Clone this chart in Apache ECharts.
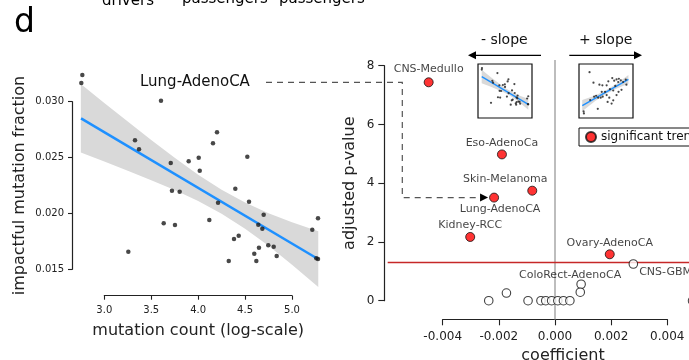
<!DOCTYPE html>
<html><head><meta charset="utf-8">
<script src="https://cdn.jsdelivr.net/npm/echarts@6/dist/echarts.min.js"></script>
<style>html,body{margin:0;padding:0;background:#fff}#c{width:689px;height:360px}</style>
</head><body><div id="c"></div>
<script>
// ---- Left panel: Lung-AdenoCA, impactful fraction vs mutation count ----
const mutCount = [2.766, 2.755, 3.604, 3.327, 3.370, 3.708, 3.721, 3.803, 3.899, 4.006, 4.017, 4.158, 4.201, 4.212, 4.119, 3.633, 3.753, 3.256, 4.326, 4.382, 4.432, 4.396, 4.524, 4.542, 4.698, 4.641, 4.684, 4.648, 4.598, 4.620, 4.747, 4.805, 4.837, 5.216, 5.277, 5.259, 5.277];
const impFrac = [0.03239, 0.03167, 0.03009, 0.02655, 0.02574, 0.02451, 0.02203, 0.02194, 0.02467, 0.02499, 0.02382, 0.02628, 0.02726, 0.02096, 0.01941, 0.01912, 0.01896, 0.01657, 0.01574, 0.01771, 0.01801, 0.02221, 0.02508, 0.02105, 0.01989, 0.01899, 0.01863, 0.01693, 0.01640, 0.01574, 0.01715, 0.01702, 0.01619, 0.01854, 0.01956, 0.01598, 0.01592];
const fitX = [2.752, 5.277];
const fitY = [0.02851, 0.01592];
const bandX  = [2.75, 3.0, 3.25, 3.5, 3.75, 4.0, 4.25, 4.5, 4.75, 5.0, 5.28];
const bandHi = [0.03158, 0.02989, 0.02823, 0.02658, 0.02499, 0.02347, 0.02213, 0.02098, 0.02001, 0.01921, 0.01841];
const bandLo = [0.02546, 0.02465, 0.02383, 0.02298, 0.02209, 0.02111, 0.01997, 0.01862, 0.01711, 0.01541, 0.01341];

// ---- Right panel: coefficient vs adjusted p-value ----
const sigNames = ['CNS-Medullo', 'Eso-AdenoCa', 'Skin-Melanoma', 'Lung-AdenoCA', 'Kidney-RCC', 'Ovary-AdenoCA'];
const sigCoef  = [-0.0045, -0.00189, -0.00081, -0.00217, -0.00302, 0.00195];
const sigP     = [7.435, 4.98, 3.745, 3.51, 2.17, 1.58];
const nsNames  = ['CNS-GBM', 'ColoRect-AdenoCA', '', '', '', '', '', '', '', '', '', '', ''];
const nsCoef   = [0.00279, 0.00093, 0.00090, -0.00173, -0.00236, -0.00096, -0.00050, -0.00033, -0.00012, 0.00010, 0.00030, 0.00053, 0.00490];
const nsP      = [1.25, 0.56, 0.29, 0.26, 0.0, 0.0, 0.0, 0.0, 0.0, 0.0, 0.0, 0.0, 0.0];
const sigThreshold = 1.301;

// ---- Inset (+ slope) thumbnail, normalised units ----
const posX = [0.195, 0.085, 0.091, 0.348, 0.268, 0.378, 0.433, 0.512, 0.543, 0.616, 0.652, 0.695, 0.726, 0.738, 0.774, 0.817, 0.878, 0.866, 0.573, 0.634, 0.482, 0.512, 0.439, 0.402, 0.354, 0.317, 0.561, 0.634, 0.604, 0.695, 0.671, 0.732, 0.787, 0.530, 0.207, 0.280, 0.421];
const posY = [0.848, 0.121, 0.085, 0.170, 0.655, 0.618, 0.606, 0.606, 0.679, 0.739, 0.691, 0.715, 0.667, 0.727, 0.697, 0.667, 0.618, 0.709, 0.533, 0.509, 0.485, 0.424, 0.394, 0.376, 0.376, 0.412, 0.376, 0.327, 0.267, 0.424, 0.594, 0.485, 0.521, 0.297, 0.333, 0.394, 0.485];
const posFitX = [0.061, 0.915];
const posFitY = [0.230, 0.715];
const posBandX  = [0.06, 0.3, 0.5, 0.7, 0.915];
const posBandHi = [0.335, 0.416, 0.514, 0.638, 0.797];
const posBandLo = [0.123, 0.316, 0.444, 0.548, 0.633];

// reference lines of the right panel (value-space extents)
const zeroLineP = [-0.63, 8.19];
const threshCoef = [-0.00596, 0.0062];

const ink = '#222';
const FONT = 'DejaVu Sans';
const chart = echarts.init(document.getElementById('c'));

function band(xi, yi, xs, lo, hi) {
  return { type: 'custom', xAxisIndex: xi, yAxisIndex: yi, clip: false, silent: true, z: 1,
    data: [[xs[0], lo[0]]],
    renderItem: (p, api) => {
      const pts = [];
      for (let i = 0; i < xs.length; i++) pts.push(api.coord([xs[i], hi[i]]));
      for (let i = xs.length - 1; i >= 0; i--) pts.push(api.coord([xs[i], lo[i]]));
      return { type: 'polygon', shape: { points: pts }, style: { fill: '#d9d9d9' } };
    } };
}
function polyline(xi, yi, xs, ys, color, w, z) {
  return { type: 'custom', xAxisIndex: xi, yAxisIndex: yi, clip: false, silent: true, z: z,
    data: [[xs[0], ys[0]]],
    renderItem: (p, api) => ({ type: 'polyline',
      shape: { points: xs.map((x, i) => api.coord([x, ys[i]])) },
      style: { stroke: color, lineWidth: w, fill: null } }) };
}
function dots(xi, yi, xs, ys, s) {
  return { type: 'scatter', xAxisIndex: xi, yAxisIndex: yi, clip: false, silent: true, z: 3,
    data: xs.map((x, i) => [x, ys[i]]), symbolSize: s, itemStyle: { color: '#1a1a1a' } };
}
const axLine = { show: true, onZero: false, lineStyle: { color: ink, width: 1.2 } };
const axTickS = { show: true, length: 4, lineStyle: { color: ink, width: 1.1 } };
const axTickL = { show: true, length: 6, lineStyle: { color: ink, width: 1.1 } };

const labelPos = {
  'CNS-Medullo':   { position: 'top', distance: 3, offset: [0, 0] },
  'Eso-AdenoCa':   { position: 'top', distance: 1, offset: [0, 0] },
  'Skin-Melanoma': { position: 'top', distance: 1, offset: [-27, 0] },
  'Lung-AdenoCA':  { position: 'bottom', distance: 1, offset: [6, 0] },
  'Kidney-RCC':    { position: 'top', distance: 1, offset: [0, 0] },
  'Ovary-AdenoCA': { position: 'top', distance: 1, offset: [0, 0] },
  'CNS-GBM':       { position: 'right', distance: 1, offset: [0, 8] },
  'ColoRect-AdenoCA': { position: 'top', distance: 0, offset: [-11, 1] }
};
function mkItems(names, xs, ys) {
  return xs.map((x, i) => {
    const o = { value: [x, ys[i]], name: names[i] };
    if (names[i] && labelPos[names[i]]) o.label = Object.assign({ show: true }, labelPos[names[i]]);
    return o;
  });
}
const ptLabel = { show: false, formatter: '{b}', fontSize: 11, color: '#111', fontFamily: FONT };

chart.setOption({
  animation: false,
  textStyle: { fontFamily: FONT },
  grid: [
    { left: 104.3, top: 101.7, width: 187.7, height: 167.6, outerBoundsMode: 'none', containLabel: false },
    { left: 442.7, top: 65.7, width: 224.6, height: 235, outerBoundsMode: 'none', containLabel: false },
    { left: 478, top: 64, width: 54, height: 54, show: true, borderColor: '#111', borderWidth: 1.2, backgroundColor: '#fff', outerBoundsMode: 'none' },
    { left: 579, top: 64, width: 54, height: 54, show: true, borderColor: '#111', borderWidth: 1.2, backgroundColor: '#fff', outerBoundsMode: 'none' }
  ],
  xAxis: [
    { gridIndex: 0, type: 'value', min: 3, max: 5, interval: 0.5, offset: 26.4,
      axisLine: axLine, axisTick: axTickS, splitLine: { show: false },
      axisLabel: { fontSize: 10, color: ink, margin: 10, formatter: v => v.toFixed(1) },
      name: 'mutation count (log-scale)', nameLocation: 'middle', nameGap: 27,
      nameTextStyle: { fontSize: 16, color: ink } },
    { gridIndex: 1, type: 'value', min: -0.004, max: 0.004, interval: 0.002, offset: 18.6,
      axisLine: axLine, axisTick: axTickL, splitLine: { show: false },
      axisLabel: { fontSize: 12, color: ink, margin: 12, formatter: v => v.toFixed(3) },
      name: 'coefficient', nameLocation: 'middle', nameGap: 27,
      nameTextStyle: { fontSize: 16, color: ink, padding: [0, 0, 0, 16] } },
    { gridIndex: 2, type: 'value', min: 2.55, max: 5.48, show: false },
    { gridIndex: 3, type: 'value', min: 0, max: 1, show: false }
  ],
  yAxis: [
    { gridIndex: 0, type: 'value', min: 0.015, max: 0.030, interval: 0.005, offset: 32.3,
      axisLine: axLine, axisTick: axTickS, splitLine: { show: false },
      axisLabel: { fontSize: 10, color: ink, margin: 8, formatter: v => v.toFixed(3) },
      name: 'impactful mutation fraction', nameLocation: 'middle', nameGap: 44,
      nameTextStyle: { fontSize: 16, color: ink } },
    { gridIndex: 1, type: 'value', min: 0, max: 8, interval: 2, offset: 58.4,
      axisLine: axLine, axisTick: axTickL, splitLine: { show: false },
      axisLabel: { fontSize: 12, color: ink, margin: 10 },
      name: 'adjusted p-value', nameLocation: 'middle', nameGap: 26,
      nameTextStyle: { fontSize: 16, color: ink } },
    { gridIndex: 2, type: 'value', min: 0.0097, max: 0.0342, show: false },
    { gridIndex: 3, type: 'value', min: 0, max: 1, show: false }
  ],
  legend: {
    data: [{ name: 'significant trend', icon: 'circle' }], selectedMode: false,
    left: 579, top: 128, padding: [3, 6, 3, 6], itemWidth: 10, itemHeight: 10, itemGap: 5,
    borderColor: '#111', borderWidth: 1, borderRadius: 0, backgroundColor: '#fff',
    textStyle: { fontSize: 12, color: '#111', fontFamily: FONT }
  },
  series: [
    band(0, 0, bandX, bandLo, bandHi),
    polyline(0, 0, fitX, fitY, '#1e90ff', 2.5, 2),
    dots(0, 0, mutCount, impFrac, 4.5),
    band(2, 2, bandX, bandLo, bandHi),
    polyline(2, 2, fitX, fitY, '#1e90ff', 1.4, 2),
    dots(2, 2, mutCount, impFrac, 2.2),
    band(3, 3, posBandX, posBandLo, posBandHi),
    polyline(3, 3, posFitX, posFitY, '#1e90ff', 1.4, 2),
    dots(3, 3, posX, posY, 2.2),
    polyline(1, 1, [0, 0], zeroLineP, '#bdbdbd', 2, 1),
    polyline(1, 1, threshCoef, [sigThreshold, sigThreshold], '#c62828', 1.6, 1),
    { type: 'scatter', name: 'not significant', xAxisIndex: 1, yAxisIndex: 1, clip: false, z: 3,
      symbolSize: 8.5, itemStyle: { color: '#fff', borderColor: '#111', borderWidth: 1.1 },
      label: ptLabel, data: mkItems(nsNames, nsCoef, nsP) },
    { type: 'scatter', name: 'significant trend', xAxisIndex: 1, yAxisIndex: 1, clip: false, z: 4,
      symbolSize: 9, itemStyle: { color: '#ff0000', borderColor: '#111', borderWidth: 1 },
      label: ptLabel, data: mkItems(sigNames, sigCoef, sigP) }
  ]
});

// ---- Annotations ----
const li = sigNames.indexOf('Lung-AdenoCA');
const lp = chart.convertToPixel({ gridIndex: 1 }, [sigCoef[li], sigP[li]]);
const dash = { stroke: '#555', lineWidth: 1.2, lineDash: [6, 5] };
const tip = lp[0] - 6;
const g = [
  { type: 'text', left: 14, top: 7, style: { text: 'd', font: '33px "DejaVu Sans"', fill: '#000' } },
  { type: 'text', x: 102, y: -6, style: { text: 'drivers', font: '15px "DejaVu Sans"', fill: '#000' } },
  { type: 'text', x: 182, y: -8.5, style: { text: 'passengers', font: '15px "DejaVu Sans"', fill: '#000' } },
  { type: 'text', x: 279, y: -8.5, style: { text: 'passengers', font: '15px "DejaVu Sans"', fill: '#000' } },
  { type: 'text', x: 140, y: 82, style: { text: 'Lung-AdenoCA', font: '15px "DejaVu Sans"', fill: '#111', verticalAlign: 'middle' } },
  { type: 'polyline', shape: { points: [[266, 82.3], [402.3, 82.3], [402.3, lp[1]], [tip - 8, lp[1]]] }, style: Object.assign({ fill: null }, dash) },
  { type: 'polygon', shape: { points: [[tip - 8, lp[1] - 4], [tip, lp[1]], [tip - 8, lp[1] + 4]] }, style: { fill: '#000' } },
  { type: 'text', x: 504.3, y: 40.5, style: { text: '- slope', font: '14px "DejaVu Sans"', fill: '#111', align: 'center', verticalAlign: 'middle' } },
  { type: 'text', x: 605.7, y: 40, style: { text: '+ slope', font: '14px "DejaVu Sans"', fill: '#111', align: 'center', verticalAlign: 'middle' } },
  { type: 'line', shape: { x1: 541, y1: 55.3, x2: 475, y2: 55.3 }, style: { stroke: '#000', lineWidth: 1.3 } },
  { type: 'polygon', shape: { points: [[476, 51.3], [468, 55.3], [476, 59.3]] }, style: { fill: '#000' } },
  { type: 'line', shape: { x1: 569.3, y1: 55.3, x2: 635, y2: 55.3 }, style: { stroke: '#000', lineWidth: 1.3 } },
  { type: 'polygon', shape: { points: [[634, 51.3], [642, 55.3], [634, 59.3]] }, style: { fill: '#000' } }
];
chart.setOption({ graphic: g });
</script></body></html>
